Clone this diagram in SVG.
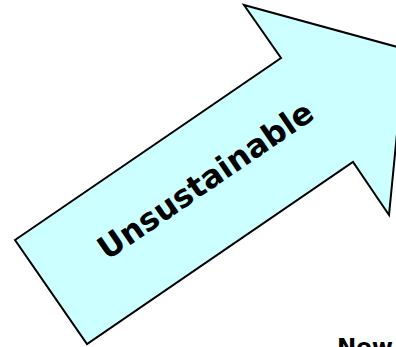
<svg xmlns="http://www.w3.org/2000/svg" width="396" height="347" viewBox="0 0 396 347">
<style>
.arrow{fill:#CCFFFF;stroke:#000;stroke-width:2;stroke-linejoin:miter}
.lbl{font-family:"DejaVu Sans","Verdana",sans-serif;font-weight:bold;fill:#000}
</style>
<rect width="396" height="347" fill="#fff"/>
<g id="arrow">
<polygon class="arrow" points="15,240 281,58 244,5 405.3,49.2 389,215 353,162 87,344"/>
<text class="lbl" font-size="31.5" text-anchor="middle" transform="translate(206,181) rotate(-34.4)" y="10">Unsustainable</text>
</g>
<g id="new">
<text class="lbl" font-size="23" x="337" y="355">New</text>
</g>
<g id="connectors"></g>
</svg>
